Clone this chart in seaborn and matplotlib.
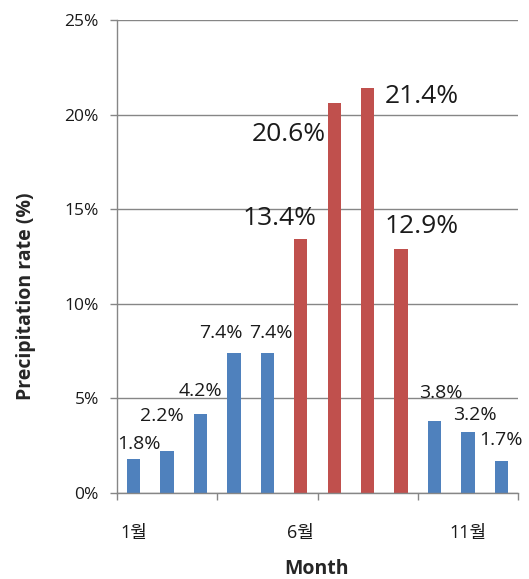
import matplotlib
matplotlib.use("Agg")
import matplotlib.pyplot as plt
import seaborn as sns
import pandas as pd

# Monthly share of annual precipitation (%)
months = list(range(1, 13))
rates = [1.8, 2.2, 4.2, 7.4, 7.4, 13.4, 20.6, 21.4, 12.9, 3.8, 3.2, 1.7]
season = ["dry"] * 5 + ["wet"] * 4 + ["dry"] * 3
month_labels = {1: "1월", 6: "6월", 11: "11월"}
y_ticks = [0, 5, 10, 15, 20, 25]

# hand-placed label offsets from each bar top, in pixels (dx, dy)
label_offsets = [(5, 15), (-5, 35), (0, 23), (-13, 20), (3, 20), (-21, 21),
                 (-45, -31), (54, -8), (21, 22), (6, 28), (7, 17), (0, 21)]

sns.set_theme(style="white")
plt.rcParams["font.family"] = ["Open Sans", "Noto Sans CJK KR", "DejaVu Sans"]

df = pd.DataFrame({"month": [str(m) for m in months], "rate": rates, "season": season})

fig = plt.figure(figsize=(5.29, 5.79), dpi=100)
ax = fig.add_axes([117 / 529, 1 - 493 / 579, 401 / 529, 473 / 579])

sns.barplot(data=df, x="month", y="rate", hue="season",
            palette={"dry": "#4F81BD", "wet": "#C0504D"},
            dodge=False, width=0.4, saturation=1, legend=False,
            linewidth=0, ax=ax)

grey = "#868686"
ax.set_xlim(-0.5, len(months) - 0.5)
ax.set_ylim(0, 25)
ax.set_yticks(y_ticks)
ax.set_yticklabels([f"{v}%" for v in y_ticks], fontsize=12.5, color="#1a1a1a")
ax.yaxis.grid(True, color=grey, linewidth=1)
ax.set_axisbelow(True)
ax.tick_params(axis="y", which="major", left=True, length=5, width=1,
               color=grey, pad=8, direction="out")

pos = [m - 1 for m in month_labels]
ax.set_xticks(pos)
ax.set_xticklabels(list(month_labels.values()), fontsize=13, color="#1a1a1a")
ax.set_xticks([-0.5, 2.5, 5.5, 8.5, 11.5], minor=True)
ax.tick_params(axis="x", which="major", bottom=True, length=0, pad=22)
ax.tick_params(axis="x", which="minor", bottom=True, length=5, width=1,
               color=grey, direction="out")

for side in ("top", "right"):
    ax.spines[side].set_visible(False)
for side in ("left", "bottom"):
    ax.spines[side].set_color(grey)
    ax.spines[side].set_linewidth(1)

ax.set_xlabel("")
ax.set_ylabel("")

for i, (v, s) in enumerate(zip(rates, season)):
    dx, dy = label_offsets[i]
    ax.annotate(f"{v:.1f}%", xy=(i, v), xytext=(dx, dy),
                textcoords="offset pixels", ha="center", va="center",
                fontsize=19 if s == "wet" else 14, color="#1a1a1a",
                annotation_clip=False)

fig.text(26 / 529, 1 - 296 / 579, "Precipitation rate (%)", rotation=90,
         ha="center", va="center", fontsize=14, fontweight="bold")
fig.text(317 / 529, 1 - 574 / 579, "Month", ha="center", va="baseline",
         fontsize=14, fontweight="bold")

fig.savefig("out.png", dpi=100)
